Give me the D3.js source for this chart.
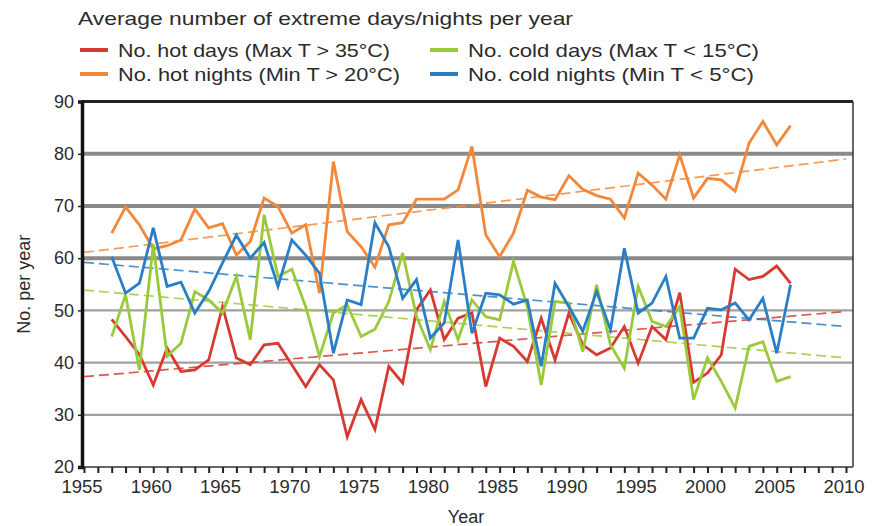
<!DOCTYPE html>
<html>
<head>
<meta charset="utf-8">
<script src="https://cdn.jsdelivr.net/npm/d3@7"></script>
<style>
  body { margin: 0; background: #fff; }
  svg { display: block; font-family: "Liberation Sans", Arial, sans-serif; }
</style>
</head>
<body>
<svg id="chart" width="873" height="526"></svg>
<script>
// years 1957..2006
const years = d3.range(1957, 2007)

const hotDays = [48.3, 45, 41.5, 35.7, 42.8, 38.3, 38.6, 40.5, 50.7, 40.9,
  39.6, 43.4, 43.7, 39.6, 35.4, 39.6, 36.7, 25.8, 32.9, 27.2,
  39.3, 36.1, 50.1, 53.9, 44.4, 48.5, 49.5, 35.4, 44.7, 43.1,
  40.2, 48.5, 40.5, 49.5, 43.4, 41.5, 42.8, 46.9, 39.9, 46.9,
  44.4, 53.4, 36.2, 38, 41.5, 57.9, 55.9, 56.5, 58.5, 55.2]

const hotNights = [64.8, 69.8, 66.4, 61.8, 62.4, 63.5, 69.4, 65.8, 66.6, 60.6,
  63.2, 71.5, 69.9, 64.8, 66.4, 53.3, 78.5, 65.1, 62.2, 58.3,
  66.4, 66.8, 71.3, 71.3, 71.3, 73.1, 81.4, 64.5, 60.3, 64.8,
  73, 71.7, 71.2, 75.8, 73.2, 72, 71.3, 67.7, 76.3, 74,
  71.3, 79.8, 71.5, 75.3, 75, 72.8, 82, 86.2, 81.7, 85.4]

const coldDays = [45, 53, 38.6, 62.6, 41.2, 43.7, 53.6, 52, 49.5, 56.5,
  44.4, 68.3, 56.5, 57.9, 50.7, 41.2, 49.5, 51.1, 45, 46.4,
  51.7, 61, 48.8, 42.5, 51.7, 44.4, 52, 48.8, 48.2, 59.4,
  50.7, 35.7, 51.7, 51.4, 42.1, 54.9, 43.4, 38.9, 54.6, 47.9,
  46.9, 50.7, 32.9, 40.9, 36.4, 31.3, 43.1, 44, 36.4, 37.3]

const coldNights = [60.3, 53.3, 55.2, 65.8, 54.6, 55.4, 49.5, 53.6, 59.1, 64.4,
  60, 63, 54.6, 63.5, 60.6, 57.1, 41.8, 52, 51.1, 66.8,
  62.2, 52.3, 55.9, 44.7, 47.6, 63.5, 45.6, 53.3, 53, 51.2,
  52, 39.3, 55.2, 50.7, 46, 53.6, 46.3, 61.9, 49.5, 51.4,
  56.5, 44.7, 44.7, 50.4, 50.1, 51.4, 48.2, 52.3, 41.8, 54.9]

// dashed trend lines, value at 1955 and at 2010
const trendYears = [1955, 2010]
const hotDaysTrend = [37.3, 49.8]
const hotNightsTrend = [61.1, 79.0]
const coldDaysTrend = [53.9, 40.9]
const coldNightsTrend = [59.2, 46.9]

const yTicks = [20, 30, 40, 50, 60, 70, 80, 90]
const xTickLabels = d3.range(1955, 2011, 5)

const series = [
  { name: 'No. hot days (Max T > 35°C)', values: hotDays, trend: hotDaysTrend, color: '#d73a30', w: 272 },
  { name: 'No. hot nights (Min T > 20°C)', values: hotNights, trend: hotNightsTrend, color: '#f4883a', w: 282 },
  { name: 'No. cold days (Max T < 15°C)', values: coldDays, trend: coldDaysTrend, color: '#9bc93c', w: 291 },
  { name: 'No. cold nights (Min T < 5°C)', values: coldNights, trend: coldNightsTrend, color: '#2a7ec6', w: 286 },
]

const svg = d3.select('#chart')
const plotL = 82, plotR = 853, plotT = 101.6, plotB = 467
const textColor = '#2b2b2b'

const x = d3.scaleLinear().domain([1955, 2010]).range([84, 846])
const y = d3.scaleLinear().domain([20, 90]).range([plotB, plotT])

// grid lines (heavier from 60 up)
svg.append('g')
  .selectAll('line')
  .data(yTicks.filter((d) => d > 20 && d < 90))
  .join('line')
  .attr('x1', plotL).attr('x2', plotR)
  .attr('y1', (d) => y(d)).attr('y2', (d) => y(d))
  .attr('stroke', (d) => (d >= 60 ? '#8a8a8a' : '#a0a0a0'))
  .attr('stroke-width', (d) => (d >= 60 ? 4 : 2.2))

// frame
svg.append('line').attr('x1', plotL).attr('x2', plotR).attr('y1', plotT).attr('y2', plotT)
  .attr('stroke', '#222').attr('stroke-width', 3)
svg.append('line').attr('x1', plotR).attr('x2', plotR).attr('y1', plotT).attr('y2', plotB)
  .attr('stroke', '#333').attr('stroke-width', 1.5)
svg.append('line').attr('x1', plotL).attr('x2', plotR).attr('y1', plotB).attr('y2', plotB)
  .attr('stroke', '#666').attr('stroke-width', 2)

// x axis ticks, one per year
const xAxis = d3.axisBottom(x)
  .tickValues(d3.range(1955, 2011))
  .tickSize(6)
  .tickFormat('')
svg.append('g')
  .attr('transform', `translate(0,${plotB})`)
  .call(xAxis)
  .call((g) => g.select('.domain').remove())
  .call((g) => g.selectAll('.tick line').attr('stroke', '#222').attr('stroke-width', 2))

svg.append('g')
  .selectAll('text')
  .data(xTickLabels)
  .join('text')
  .attr('x', (d) => x(d) - 2)
  .attr('y', plotB + 26)
  .attr('text-anchor', 'middle')
  .attr('font-size', 18.5)
  .attr('fill', textColor)
  .text((d) => d)

// y axis
const yAxis = d3.axisLeft(y).tickValues(yTicks).tickSize(4).tickPadding(4)
svg.append('g')
  .attr('transform', `translate(${plotL},0)`)
  .call(yAxis)
  .call((g) => g.select('.domain').attr('stroke', '#111').attr('stroke-width', 3.5))
  .call((g) => g.selectAll('.tick line').attr('stroke', '#222').attr('stroke-width', 1.5))
  .call((g) => g.selectAll('.tick text').attr('font-size', 18).attr('fill', textColor)
    .attr('font-family', '"Liberation Sans", Arial, sans-serif'))

// trend lines
const plot = svg.append('g')
plot.selectAll('path.trend')
  .data(series)
  .join('path')
  .attr('class', 'trend')
  .attr('fill', 'none')
  .attr('stroke', (d) => d.color)
  .attr('stroke-width', 1.7)
  .attr('stroke-dasharray', '10,5')
  .attr('opacity', 0.85)
  .attr('d', (d) => d3.line().x((v, i) => x(trendYears[i])).y((v) => y(v))(d.trend))

// series lines
const line = d3.line().x((v, i) => x(years[i])).y((v) => y(v))
plot.selectAll('path.series')
  .data(series)
  .join('path')
  .attr('class', 'series')
  .attr('fill', 'none')
  .attr('stroke', (d) => d.color)
  .attr('stroke-width', 2.8)
  .attr('stroke-linejoin', 'miter')
  .attr('d', (d) => line(d.values))

// title and axis labels
svg.append('text').attr('x', 78).attr('y', 25)
  .attr('font-size', 19).attr('fill', textColor)
  .attr('textLength', 495).attr('lengthAdjust', 'spacingAndGlyphs')
  .text('Average number of extreme days/nights per year')

svg.append('text')
  .attr('transform', `translate(30,${(plotT + plotB) / 2}) rotate(-90)`)
  .attr('text-anchor', 'middle')
  .attr('font-size', 18).attr('fill', textColor)
  .text('No. per year')

svg.append('text').attr('x', 466).attr('y', 523)
  .attr('text-anchor', 'middle')
  .attr('font-size', 18).attr('fill', textColor)
  .text('Year')

// legend, two columns
const legend = svg.append('g')
  .selectAll('g')
  .data([series[0], series[2], series[1], series[3]])
  .join('g')
  .attr('transform', (d, i) => `translate(${i % 2 ? 430 : 80},${i < 2 ? 50 : 74})`)
legend.append('line')
  .attr('x1', 0).attr('x2', 28)
  .attr('stroke', (d) => d.color).attr('stroke-width', 4)
legend.append('text')
  .attr('x', 38).attr('y', 7)
  .attr('font-size', 19).attr('fill', textColor)
  .attr('textLength', (d) => d.w).attr('lengthAdjust', 'spacingAndGlyphs')
  .text((d) => d.name)
</script>
</body>
</html>
